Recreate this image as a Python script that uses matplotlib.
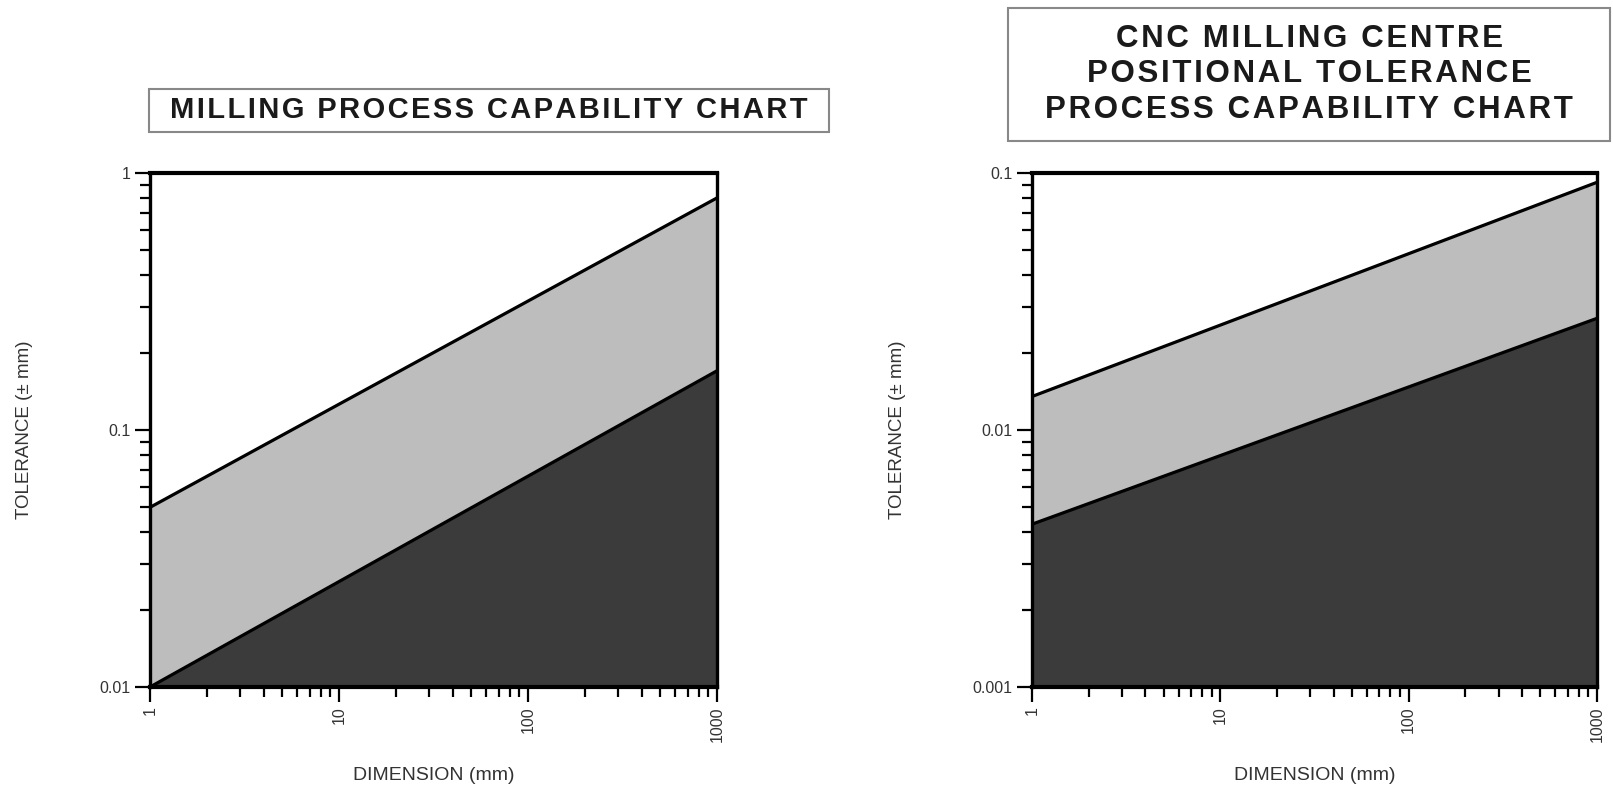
import matplotlib
matplotlib.use('Agg')
import matplotlib.pyplot as plt
from matplotlib.patches import Rectangle
from matplotlib.ticker import FixedLocator, LogLocator, NullFormatter

plt.rcParams['font.family'] = ['Liberation Sans', 'DejaVu Sans']

# dimension range (mm)
dims = [1, 1000]

# milling process capability: tolerance band edges (± mm)
mill_upper = [0.05, 0.8]
mill_lower = [0.01, 0.17]
mill_ylim = (0.01, 1)
mill_yticks = [0.01, 0.1, 1]
mill_ylabels = ['0.01', '0.1', '1']

# CNC milling centre positional tolerance
cnc_upper = [0.0135, 0.092]
cnc_lower = [0.0043, 0.0272]
cnc_ylim = (0.001, 0.1)
cnc_yticks = [0.001, 0.01, 0.1]
cnc_ylabels = ['0.001', '0.01', '0.1']

xticks = [1, 10, 100, 1000]
xlabels = ['1', '10', '100', '1000']

titles = ['MILLING PROCESS CAPABILITY CHART',
          'CNC MILLING CENTRE\nPOSITIONAL TOLERANCE\nPROCESS CAPABILITY CHART']

light = '#bdbdbd'
dark = '#3b3b3b'

fig = plt.figure(figsize=(16.13, 7.95), dpi=100)
fig.patch.set_facecolor('white')

W, H = 1613, 795
def ax_rect(x0, x1, y0, y1):
    return [x0 / W, 1 - y1 / H, (x1 - x0) / W, (y1 - y0) / H]

ax1 = fig.add_axes(ax_rect(150, 717, 173, 687))
ax2 = fig.add_axes(ax_rect(1032, 1597, 173, 687))

def draw_panel(ax, upper, lower, ylim, yticks, ylabels):
    ax.set_xscale('log')
    ax.set_yscale('log')
    ax.set_xlim(dims[0], dims[-1])
    ax.set_ylim(*ylim)
    ax.fill_between(dims, lower, upper, color=light, lw=0)
    ax.fill_between(dims, ylim[0], lower, color=dark, lw=0)
    ax.plot(dims, upper, color='black', lw=2.3, solid_capstyle='butt')
    ax.plot(dims, lower, color='black', lw=2.3, solid_capstyle='butt')
    for s in ax.spines.values():
        s.set_linewidth(2.4)
    ax.spines['top'].set_linewidth(3)
    ax.spines['bottom'].set_linewidth(3)

    ax.xaxis.set_major_locator(FixedLocator(xticks))
    ax.set_xticklabels(xlabels, rotation=90, va='top', ha='center')
    ax.xaxis.set_minor_locator(LogLocator(base=10, subs=range(2, 10)))
    ax.xaxis.set_minor_formatter(NullFormatter())
    ax.yaxis.set_major_locator(FixedLocator(yticks))
    ax.set_yticklabels(ylabels)
    ax.yaxis.set_minor_locator(LogLocator(base=10, subs=range(2, 10)))
    ax.yaxis.set_minor_formatter(NullFormatter())

    ax.tick_params(axis='both', which='major', direction='out', length=11,
                   width=1.6, labelsize=11.5, colors='black', labelcolor='#333333', pad=3)
    ax.tick_params(axis='both', which='minor', direction='out', length=7, width=1.6)
    ax.tick_params(top=False, right=False, which='both')

    ax.set_xlabel('DIMENSION (mm)', fontsize=14, color='#333333', labelpad=18)
    ax.set_ylabel('TOLERANCE (\u00b1 mm)', fontsize=13.5, color='#333333', labelpad=48)

draw_panel(ax1, mill_upper, mill_lower, mill_ylim, mill_yticks, mill_ylabels)
draw_panel(ax2, cnc_upper, cnc_lower, cnc_ylim, cnc_yticks, cnc_ylabels)

# title boxes, letters spread with small spaces like the original lettering
def spread(s, gap):
    return '\n'.join(gap.join(line) for line in s.split('\n'))

def title_box(x0, x1, y0, y1, text, size, spacing, gap):
    fig.patches.append(Rectangle((x0 / W, 1 - y1 / H), (x1 - x0) / W, (y1 - y0) / H,
                                 transform=fig.transFigure, fill=False,
                                 edgecolor='#888888', lw=1.5))
    fig.text((x0 + x1) / 2 / W, 1 - (y0 + y1) / 2 / H, spread(text, gap), ha='center',
             va='center', fontsize=size, fontweight='bold', color='#1a1a1a',
             linespacing=spacing)

title_box(149, 829, 89, 132, titles[0], 21, 1.2, '\u200a')
title_box(1008, 1610, 8, 141, titles[1], 22.5, 1.22, '\u200a')

fig.savefig('out.png', dpi=100, facecolor='white')
